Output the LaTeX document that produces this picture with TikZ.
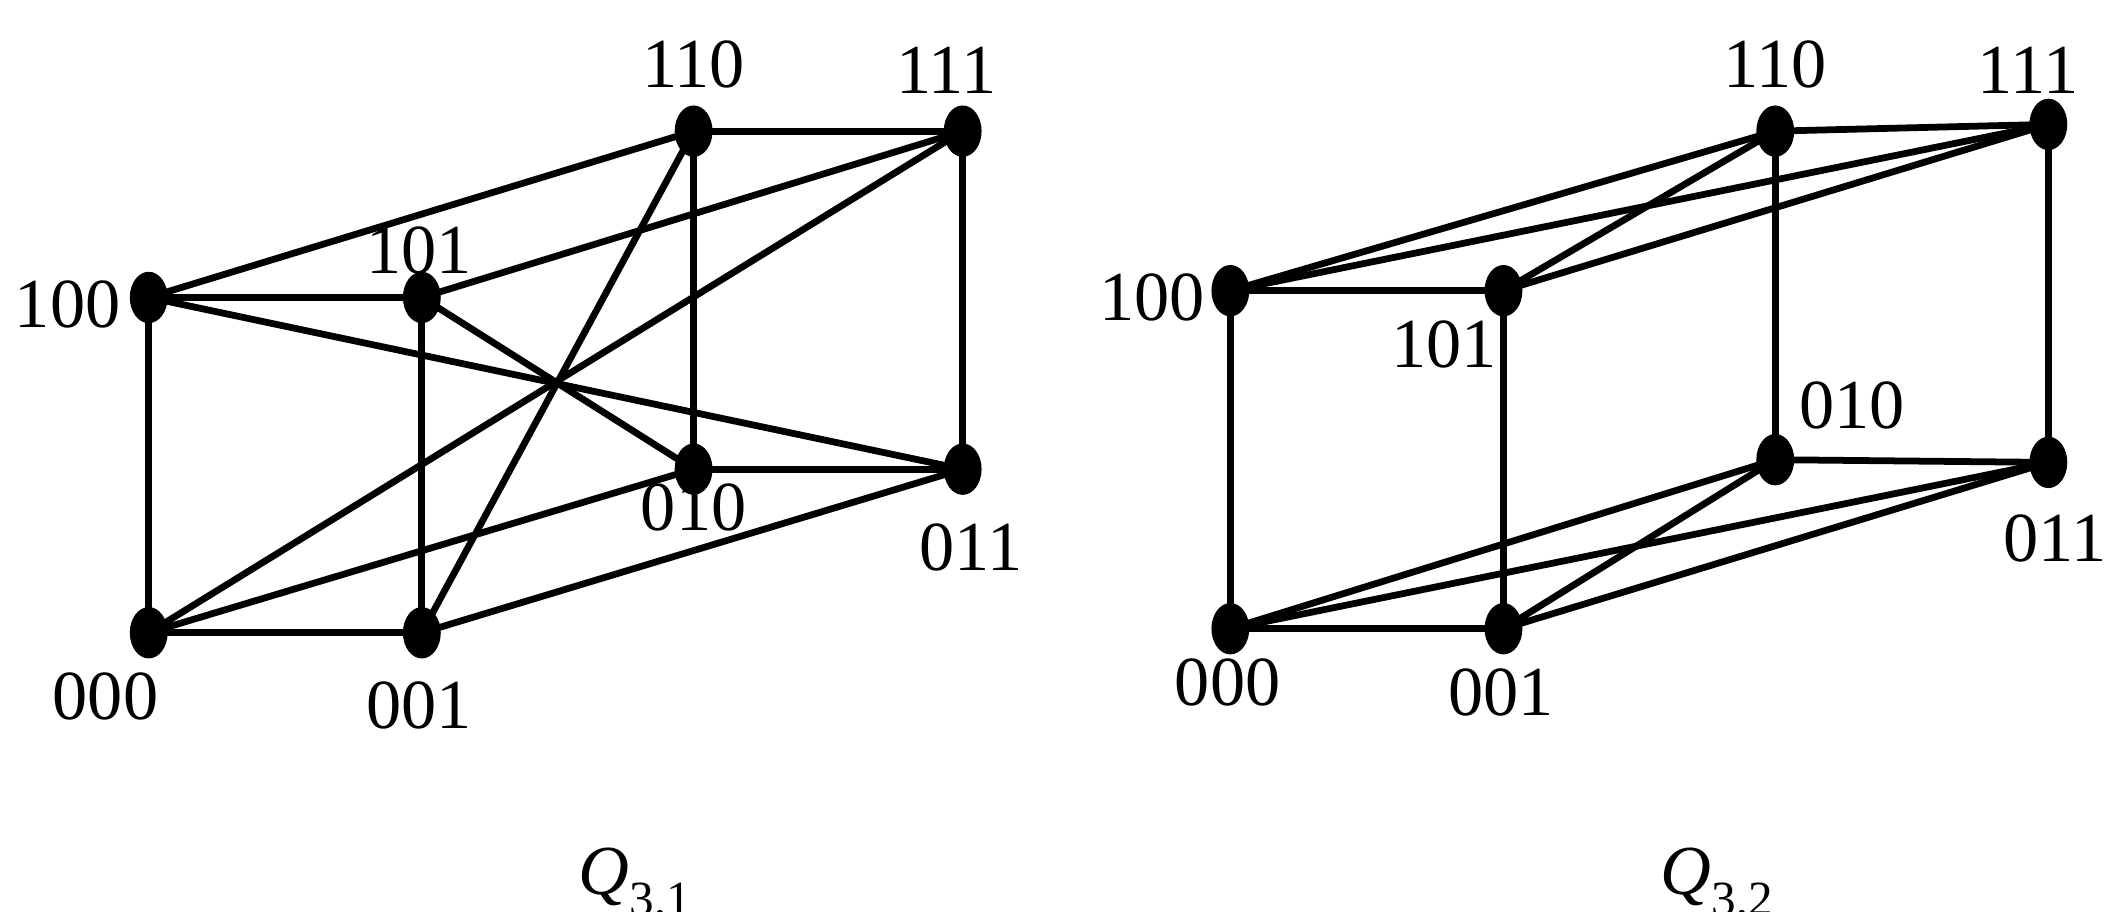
\documentclass[tikz,border=0pt]{standalone}
\usepackage{fontspec}
\setmainfont{Liberation Serif}
\usetikzlibrary{shapes.geometric}
\begin{document}
\begin{tikzpicture}[x=1pt,y=-1pt,
 v/.style={ellipse,fill=black,minimum width=28pt,minimum height=38pt,inner sep=0pt},
 lb/.style={font=\fontsize{52}{54}\selectfont,inner sep=0pt},
 e/.style={line width=5pt}]
\useasboundingbox (0,0) rectangle (1568,674);
\begin{scope}
\node[v] (a100) at (110,220) {};\node[v] (a101) at (312,220) {};
\node[v] (a110) at (513,97) {};\node[v] (a111) at (712,97) {};
\node[v] (a000) at (110,468) {};\node[v] (a001) at (312,468) {};
\node[v] (a010) at (513,347) {};\node[v] (a011) at (712,347) {};
\foreach \p/\q in {100/101,100/000,100/110,100/011,101/001,101/111,101/010,110/111,110/010,110/001,111/011,111/000,000/001,000/010,001/011,010/011}
 \draw[e] (a\p.center) -- (a\q.center);
\node[lb] (la1) at (513,48) {110};\node[lb] (la2) at (700,52) {111};
\node[lb] (la3) at (50,225) {100};\node[lb] (la4) at (310,185) {101};
\node[lb] (la5) at (513,375) {010};\node[lb] (la6) at (718,405) {011};
\node[lb] (la7) at (78,515) {000};\node[lb] (la8) at (310,522) {001};
\node[lb] (qa) at (470,655) {\textit{Q}\textsubscript{3,1}};
\end{scope}
\begin{scope}
\node[v] (b100) at (910,215) {};\node[v] (b101) at (1112,215) {};
\node[v] (b110) at (1313,97) {};\node[v] (b111) at (1515,92) {};
\node[v] (b000) at (910,465) {};\node[v] (b001) at (1112,465) {};
\node[v] (b010) at (1313,340) {};\node[v] (b011) at (1515,342) {};
\foreach \p/\q in {100/101,100/000,100/110,100/111,101/001,101/110,101/111,110/111,110/010,111/011,000/001,000/010,000/011,001/010,001/011,010/011}
 \draw[e] (b\p.center) -- (b\q.center);
\node[lb] (lb1) at (1313,48) {110};\node[lb] (lb2) at (1500,52) {111};
\node[lb] (lb3) at (852,220) {100};\node[lb] (lb4) at (1068,255) {101};
\node[lb] (lb5) at (1370,300) {010};\node[lb] (lb6) at (1520,398) {011};
\node[lb] (lb7) at (908,505) {000};\node[lb] (lb8) at (1110,512) {001};
\node[lb] (qb) at (1270,655) {\textit{Q}\textsubscript{3,2}};
\end{scope}
\end{tikzpicture}
\end{document}
